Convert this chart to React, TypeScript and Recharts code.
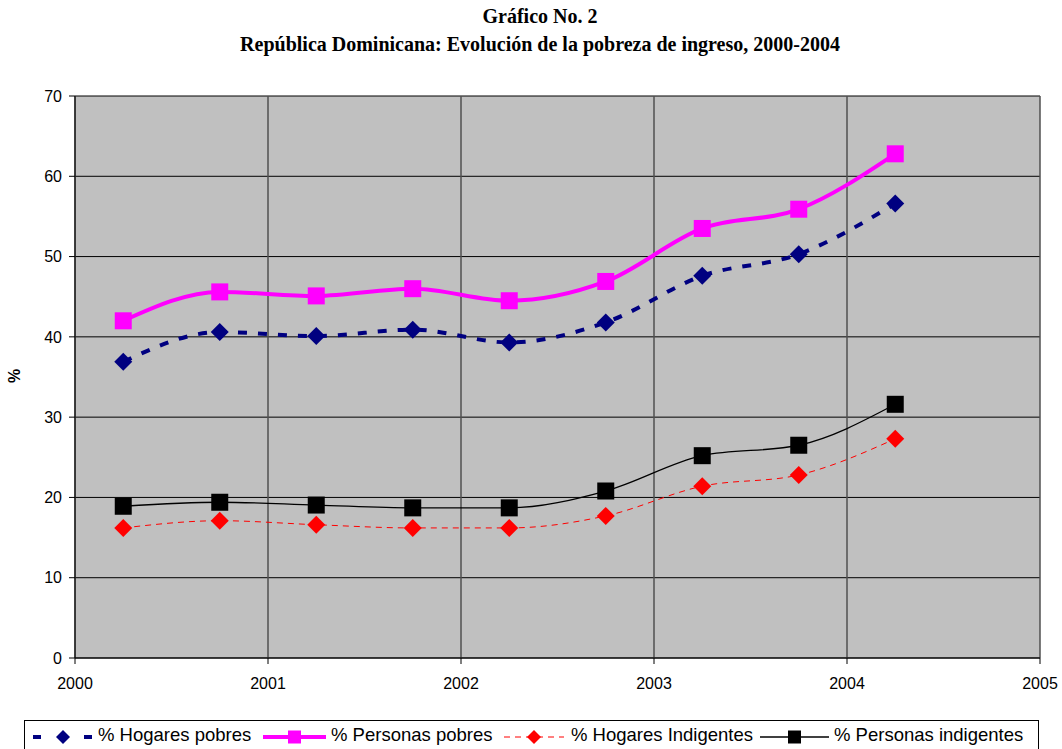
import { CartesianGrid, Line, LineChart, XAxis, YAxis } from "recharts";

const periods = [2000.25, 2000.75, 2001.25, 2001.75, 2002.25, 2002.75, 2003.25, 2003.75, 2004.25];
const hogaresPobres = [36.9, 40.6, 40.1, 40.9, 39.3, 41.8, 47.6, 50.3, 56.6];
const personasPobres = [42.0, 45.6, 45.1, 46.0, 44.5, 46.9, 53.5, 55.9, 62.8];
const hogaresIndigentes = [16.2, 17.1, 16.6, 16.2, 16.2, 17.7, 21.4, 22.8, 27.3];
const personasIndigentes = [18.9, 19.4, 19.05, 18.7, 18.7, 20.8, 25.2, 26.5, 31.6];
const xTicks = [2000, 2001, 2002, 2003, 2004, 2005];
const yTicks = [0, 10, 20, 30, 40, 50, 60, 70];

const data = periods.map((t, i) => ({
  t,
  hp: hogaresPobres[i],
  pp: personasPobres[i],
  hi: hogaresIndigentes[i],
  pi: personasIndigentes[i],
}));

type Shape = "diamond" | "square";

interface SeriesDef {
  key: string;
  name: string;
  color: string;
  width: number;
  dash?: string;
  legendDash?: string;
  shape: Shape;
  size: number;
}

const series: SeriesDef[] = [
  { key: "hp", name: "% Hogares pobres", color: "#000080", width: 4, dash: "9 11", legendDash: "8 43", shape: "diamond", size: 9 },
  { key: "pp", name: "% Personas pobres", color: "#FF00FF", width: 4, shape: "square", size: 8.5 },
  { key: "hi", name: "% Hogares Indigentes", color: "#FF0000", width: 1, dash: "6 5", legendDash: "6 5", shape: "diamond", size: 9 },
  { key: "pi", name: "% Personas indigentes", color: "#000000", width: 1.3, shape: "square", size: 8.5 },
];

// legend slot positions inside the box (sample start, sample width, text start)
const legendSlots = [
  { x: 8, w: 60, tx: 73 },
  { x: 238, w: 63, tx: 306 },
  { x: 479, w: 60, tx: 546 },
  { x: 735, w: 69, tx: 809 },
];

function marker(shape: Shape, cx: number, cy: number, r: number, color: string, key?: string) {
  if (shape === "square") {
    return <rect key={key} x={cx - r} y={cy - r} width={r * 2} height={r * 2} fill={color} />;
  }
  return (
    <polygon
      key={key}
      points={`${cx},${cy - r} ${cx + r},${cy} ${cx},${cy + r} ${cx - r},${cy}`}
      fill={color}
    />
  );
}

const makeDot = (s: SeriesDef) => (props: any) => {
  const { cx, cy, index } = props;
  if (cx == null || cy == null) return <g key={index} />;
  return marker(s.shape, cx, cy, s.size, s.color, `${s.key}-${index}`);
};

const axisFont = { fontFamily: "Arial, 'Liberation Sans', sans-serif", fontSize: 16, fill: "#000" };

export default function App() {
  return (
    <div style={{ position: "absolute", left: 0, top: 0, width: 1062, height: 749, overflow: "hidden", background: "#fff" }}>
      <div
        style={{
          position: "absolute",
          left: 0,
          top: 2,
          width: 1080,
          textAlign: "center",
          fontFamily: "'Liberation Serif', 'Times New Roman', serif",
          fontWeight: "bold",
          fontSize: 20,
          lineHeight: "28px",
        }}
      >
        <div>Gráfico No. 2</div>
        <div>República Dominicana: Evolución de la pobreza de ingreso, 2000-2004</div>
      </div>
      <div
        style={{
          position: "absolute",
          left: 8,
          top: 367,
          transform: "rotate(-90deg)",
          fontFamily: "Arial, 'Liberation Sans', sans-serif",
          fontWeight: "bold",
          fontSize: 16,
        }}
      >
        %
      </div>
      <div style={{ position: "absolute", left: 0, top: 0 }}>
        <LineChart width={1062} height={749} data={data} margin={{ top: 96, right: 22, bottom: 0, left: 0 }}>
          <CartesianGrid fill="#C0C0C0" vertical={false} stroke="#000" strokeWidth={1} />
          <CartesianGrid horizontal={false} stroke="#505050" strokeWidth={1.5} verticalValues={xTicks} />
          <XAxis
            dataKey="t"
            type="number"
            domain={[2000, 2005]}
            ticks={xTicks}
            height={91}
            tickSize={6}
            tickMargin={14}
            stroke="#000"
            tick={axisFont}
            interval={0}
          />
          <YAxis
            type="number"
            domain={[0, 70]}
            ticks={yTicks}
            width={75}
            tickSize={6}
            tickMargin={7}
            stroke="#000"
            tick={axisFont}
            interval={0}
          />
          {series.map((s) => (
            <Line
              key={s.key}
              type="monotone"
              dataKey={s.key}
              name={s.name}
              stroke={s.color}
              strokeWidth={s.width}
              strokeDasharray={s.dash}
              dot={makeDot(s)}
              activeDot={false}
              isAnimationActive={false}
            />
          ))}
        </LineChart>
      </div>
      <div
        style={{
          position: "absolute",
          left: 24,
          top: 720,
          width: 1015,
          height: 40,
          border: "1px solid #000",
          boxSizing: "border-box",
          fontFamily: "Arial, 'Liberation Sans', sans-serif",
          fontSize: 18.5,
        }}
      >
        {series.map((s, i) => {
          const slot = legendSlots[i];
          return (
            <div key={s.key}>
              <svg width={slot.w} height={20} style={{ position: "absolute", left: slot.x, top: 6 }}>
                <line
                  x1={0}
                  y1={10}
                  x2={slot.w}
                  y2={10}
                  stroke={s.color}
                  strokeWidth={s.width}
                  strokeDasharray={s.legendDash}
                />
                {marker(s.shape, slot.w / 2, 10, s.shape === "square" ? 6.5 : 7, s.color)}
              </svg>
              <span style={{ position: "absolute", left: slot.tx, top: 3, whiteSpace: "nowrap" }}>{s.name}</span>
            </div>
          );
        })}
      </div>
    </div>
  );
}
